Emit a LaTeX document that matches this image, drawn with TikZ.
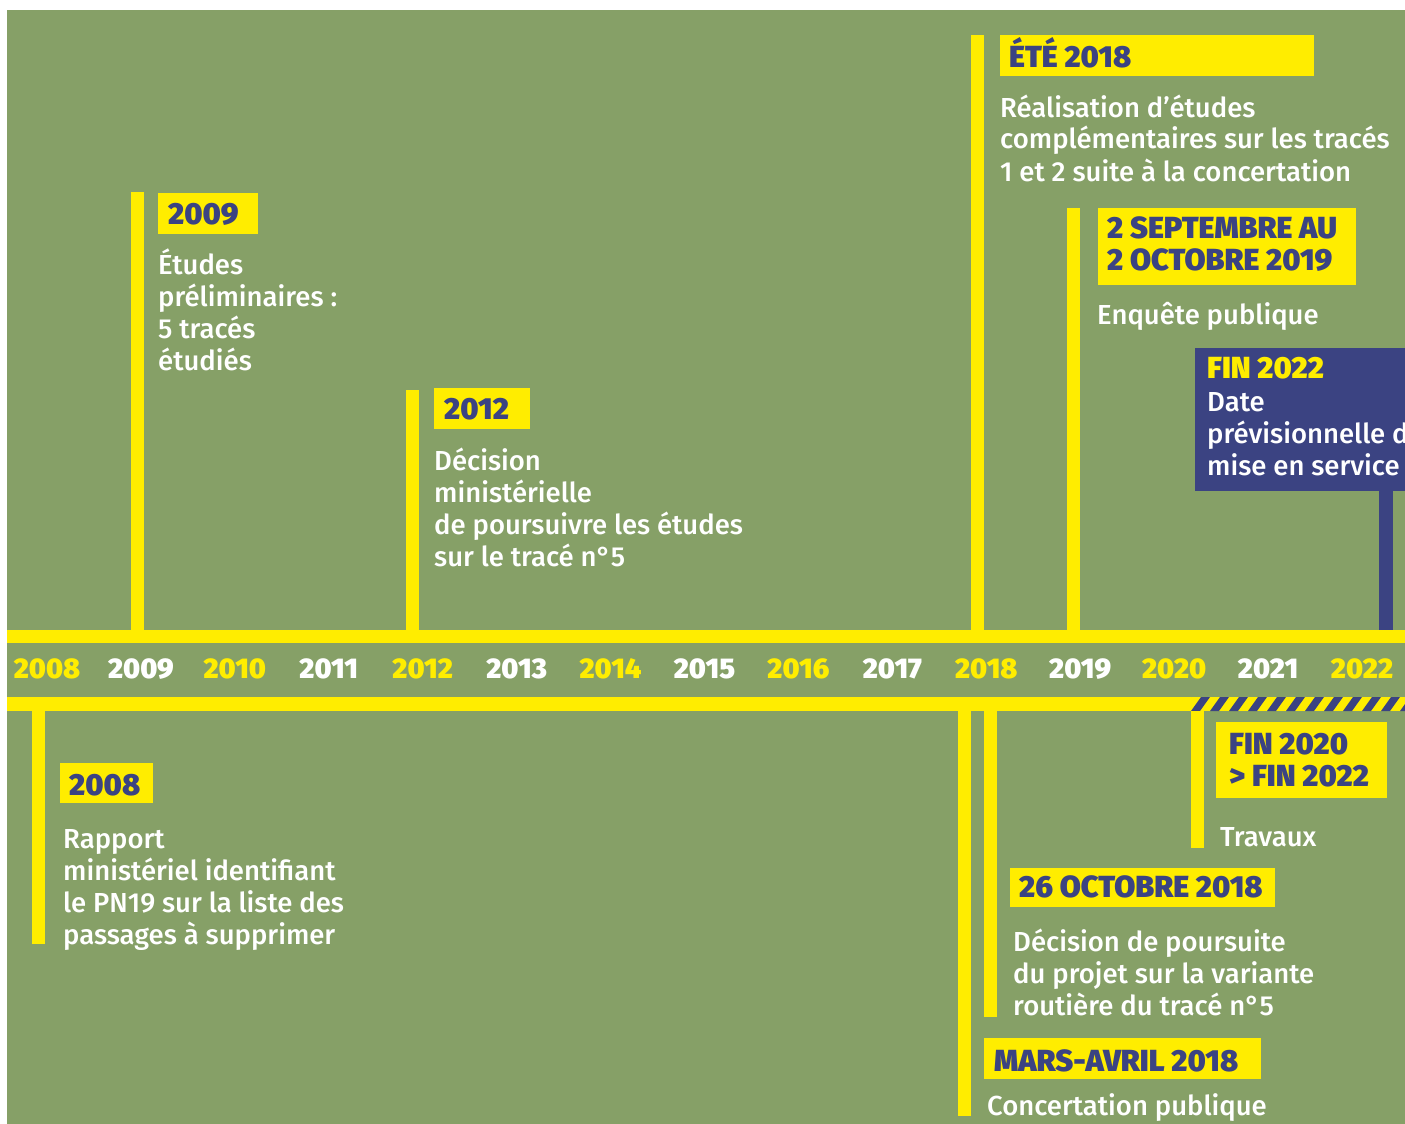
\documentclass[tikz,border=0pt]{standalone}
\usepackage{fontspec}
\setmainfont{Fira Sans}
\newfontfamily\bodyf{Fira Sans Medium}
\newfontfamily\headf{Fira Sans Black}
\definecolor{bg}{HTML}{86A067}
\definecolor{ylw}{HTML}{FFED00}
\definecolor{navy}{HTML}{3B4382}
\newcommand\bodytext[1]{\parbox[t]{500pt}{\raggedright\bodyf\fontsize{27.5}{32}\selectfont #1}}
\newcommand\headtext[1]{\parbox[t]{400pt}{\raggedright\headf\fontsize{30.5}{32}\selectfont #1}}
\tikzset{
  body/.style={anchor=base west, inner sep=0pt, text=white},
  head/.style={anchor=base west, inner sep=0pt, text=navy},
  yr/.style={anchor=base, inner sep=0pt, font=\headf\fontsize{28.5}{28}\selectfont},
  vbar/.style={fill=ylw},
  labbox/.style={fill=ylw}
}
\begin{document}
\begin{tikzpicture}[x=1pt,y=-1pt]
\useasboundingbox (0,0) rectangle (1405,1124);
\fill[white] (0,0) rectangle (1405,1124);
\fill[bg] (7,10) rectangle (1405,1124);
% bands
\fill[ylw] (7,630) rectangle (1405,643);
\fill[ylw] (7,697) rectangle (1405,711);
% hatched part
\begin{scope}
\clip (1191,697) rectangle (1405,711);
\foreach \i in {-1,...,12}{
  \fill[navy] ({1191+19*\i},711) -- ({1200+19*\i},711) -- ({1210+19*\i},697) -- ({1201+19*\i},697) -- cycle;
}
\end{scope}
% year labels
\foreach \y [count=\k from 0] in {2008,...,2022}{
  \pgfmathsetmacro\xx{47+93.93*\k}
  \ifodd\k \def\yc{white}\else\def\yc{ylw}\fi
  \node[yr,text=\yc] (y\y) at (\xx,678) {\y};
}
% upper bars
\fill[vbar] (131,192) rectangle (144,630);
\fill[vbar] (406,390) rectangle (419,630);
\fill[vbar] (971,35) rectangle (984,630);
\fill[vbar] (1067,208) rectangle (1080,630);
\fill[navy] (1379,490) rectangle (1393,630);
% lower bars
\fill[vbar] (32,711) rectangle (45,944);
\fill[vbar] (958,711) rectangle (971,1116);
\fill[vbar] (984,711) rectangle (997,1017);
\fill[vbar] (1191,711) rectangle (1204,848);
% 2009
\fill[labbox] (158,193) rectangle (258,234);
\node[head] (h2009) at (168,224) {\headtext{2009}};
\node[body] (t2009) at (158,274) {\bodytext{Études\\préliminaires :\\5 tracés\\étudiés}};
% 2012
\fill[labbox] (434,388) rectangle (530,429);
\node[head] (h2012) at (444,419) {\headtext{2012}};
\node[body] (t2012) at (434,470) {\bodytext{Décision\\ministérielle\\de poursuivre les études\\sur le tracé n°5}};
% ete 2018
\fill[labbox] (1000,35) rectangle (1314,76);
\node[head] (hete) at (1009,67) {\headtext{ÉTÉ 2018}};
\node[body] (tete) at (1000,117) {\bodytext{Réalisation d’études\\complémentaires sur les tracés\\1 et 2 suite à la concertation}};
% 2019
\fill[labbox] (1098,208) rectangle (1356,285);
\node[head] (h2019) at (1107,238) {\headtext{2 SEPTEMBRE AU\\2 OCTOBRE 2019}};
\node[body] (t2019) at (1097,324) {\bodytext{Enquête publique}};
% fin 2022
\fill[navy] (1195,348) rectangle (1405,491);
\node[head,text=ylw] (hfin) at (1207,378) {\headtext{FIN 2022}};
\node[body] (tfin) at (1207,411) {\bodytext{Date\\prévisionnelle de\\mise en service}};
% 2008
\fill[labbox] (60,763) rectangle (153,803);
\node[head] (h2008) at (69,795) {\headtext{2008}};
\node[body] (t2008) at (63,848) {\bodytext{Rapport\\ministériel identifiant\\le PN19 sur la liste des\\passages à supprimer}};
% travaux
\fill[labbox] (1216,722) rectangle (1387,798);
\node[head] (htrav) at (1229,754) {\headtext{FIN 2020\\> FIN 2022}};
\node[body] (ttrav) at (1220,846) {\bodytext{Travaux}};
% 26 octobre
\fill[labbox] (1010,868) rectangle (1275,907);
\node[head] (hoct) at (1019,897) {\headtext{26 OCTOBRE 2018}};
\node[body] (toct) at (1013,951) {\bodytext{Décision de poursuite\\du projet sur la variante\\routière du tracé n°5}};
% mars-avril
\fill[labbox] (984,1038) rectangle (1261,1079);
\node[head] (hmars) at (994,1071) {\headtext{MARS-AVRIL 2018}};
\node[body] (tmars) at (987,1115) {\bodytext{Concertation publique}};
\end{tikzpicture}
\end{document}
